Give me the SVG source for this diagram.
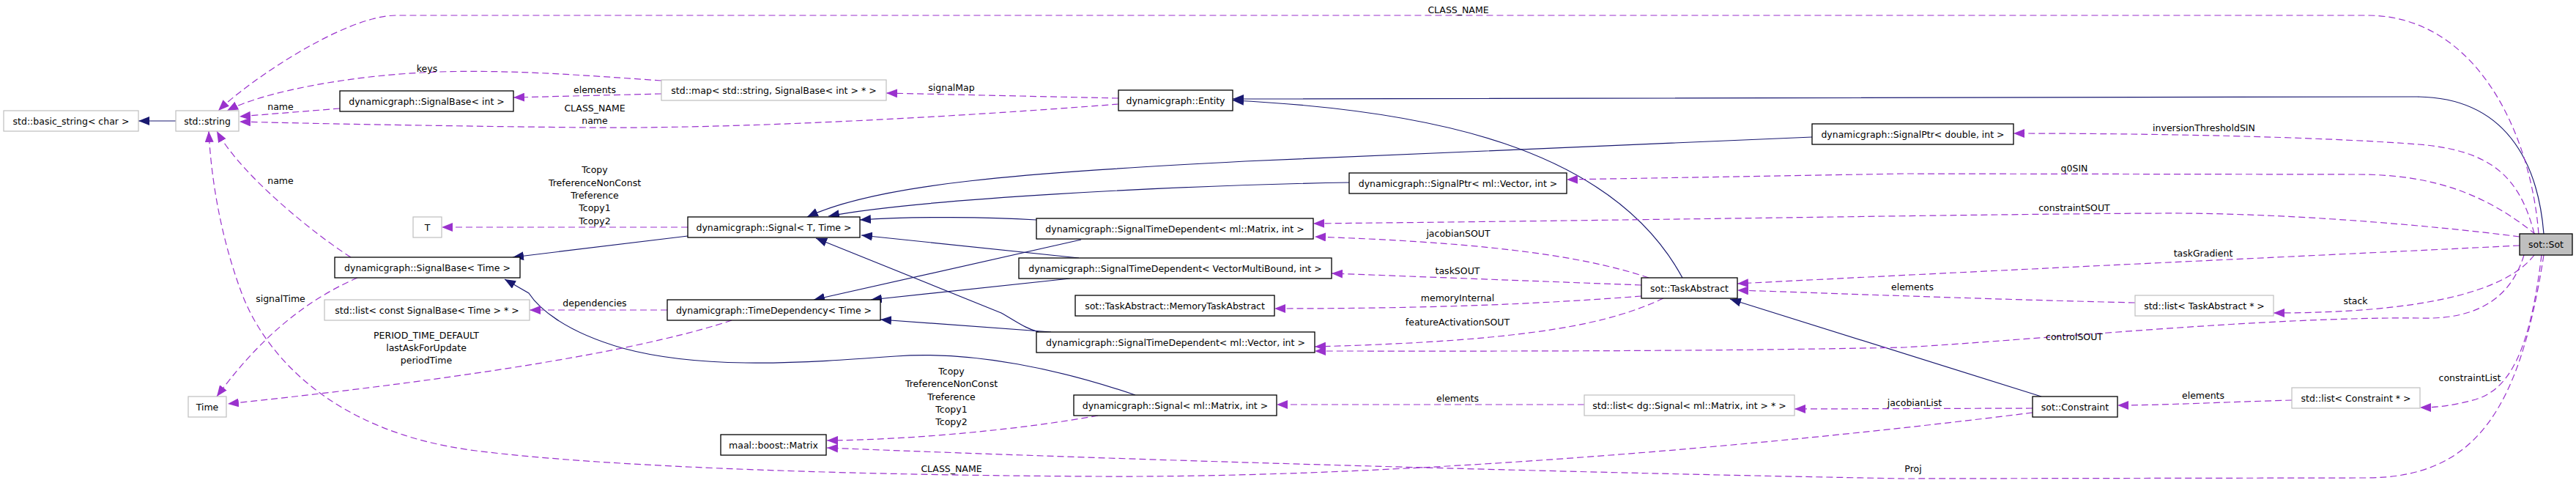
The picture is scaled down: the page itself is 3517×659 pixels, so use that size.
<svg xmlns="http://www.w3.org/2000/svg" width="3517" height="659" viewBox="0 0 3517 659">
<style>
text{font-family:"DejaVu Sans","Liberation Sans",sans-serif;font-size:12.5px;fill:#000;text-anchor:middle}
.n rect{fill:#fff;stroke:#000;stroke-width:1.3}
.g rect{fill:#fff;stroke:#bfbfbf;stroke-width:1.2}
.s{fill:none;stroke:#191970;stroke-width:1.2;marker-end:url(#ab)}
.d{fill:none;stroke:#9a32cd;stroke-width:1.2;stroke-dasharray:9,5;marker-end:url(#ap)}
</style>
<defs>
<marker id="ab" viewBox="0 0 15 12" refX="15" refY="6" markerWidth="15" markerHeight="12" orient="auto" markerUnits="userSpaceOnUse"><path d="M0,0 L15,6 L0,12 z" fill="#191970"/></marker>
<marker id="ap" viewBox="0 0 15 12" refX="15" refY="6" markerWidth="15" markerHeight="12" orient="auto" markerUnits="userSpaceOnUse"><path d="M0,0 L15,6 L0,12 z" fill="#9a32cd"/></marker>
</defs>
<rect width="3517" height="659" fill="#fff"/>
<g id="edges">
<path class="s" d="M240,165 L189,165"/>
<path class="s" d="M3473,319 C3465,220 3420,133 3300,132 L1683,135"/>
<path class="s" d="M2297,379 C2200,200 1950,150 1683,137"/>
<path class="s" d="M2474,187 L1700,220 C1400,236 1200,250 1102,296"/>
<path class="s" d="M1842,249 C1600,253 1250,272 1131,295"/>
<path class="s" d="M1415,300 C1350,296 1250,295 1174,300"/>
<path class="s" d="M1473,352 L1176,321"/>
<path class="s" d="M1476,327 L1111,409"/>
<path class="s" d="M1461,380 L1189,409"/>
<path class="s" d="M1435,453 L1202,436"/>
<path class="s" d="M1418,453 C1400,448 1390,440 1367,427 L1114,325"/>
<path class="s" d="M939,322 L700,351"/>
<path class="s" d="M1550,539 C1450,505 1330,478 1223,486 C1100,495 960,505 850,475 C770,452 735,420 722,400 L689,381"/>
<path class="s" d="M2787,541 L2362,408"/>
<path class="d" d="M464,148 L327,159"/>
<path class="d" d="M903,110 C800,103 700,95 600,98 C480,102 360,125 310,151"/>
<path class="d" d="M903,128 L701,133"/>
<path class="d" d="M1527,142 C1300,160 1000,176 800,174 C600,172 400,168 327,166"/>
<path class="d" d="M1527,134 L1210,127"/>
<path class="d" d="M3466,319 C3455,180 3380,21 3232,21 L540,21 C470,22 340,110 298,151"/>
<path class="d" d="M479,351 C430,320 330,240 296,179"/>
<path class="d" d="M2775,563 C2400,610 1900,652 1500,650 C1100,648 800,634 650,615 C450,590 360,480 330,400 C300,320 288,240 285,179"/>
<path class="d" d="M488,379 C440,400 370,440 296,541"/>
<path class="d" d="M999,437 C900,470 700,510 311,551"/>
<path class="d" d="M911,423 L723,423"/>
<path class="d" d="M939,310 L603,310"/>
<path class="d" d="M1499,567 C1400,585 1250,600 1129,601"/>
<path class="d" d="M3473,348 C3440,560 3380,652 3230,652 L2600,653 C2200,646 1600,630 1129,611"/>
<path class="d" d="M3460,319 C3440,240 3400,205 3302,197 C3200,189 3000,182 2749,182"/>
<path class="d" d="M3462,320 C3400,270 3330,238 3220,238 L2600,237 L2139,245"/>
<path class="d" d="M3440,323 C3300,305 3100,290 2951,291 C2700,292 2300,300 1793,305"/>
<path class="d" d="M2251,379 C2150,345 2000,330 1795,323"/>
<path class="d" d="M2241,389 L1818,373"/>
<path class="d" d="M2241,404 C2100,415 1950,421 1740,421"/>
<path class="d" d="M2271,407 C2200,440 2100,465 1795,473"/>
<path class="d" d="M3446,348 C3430,400 3390,437 3303,434 C3100,432 2800,462 2600,474 C2300,480 2000,479 1795,479"/>
<path class="d" d="M3440,335 C3200,347 2800,365 2372,387"/>
<path class="d" d="M2915,413 C2700,408 2500,400 2372,396"/>
<path class="d" d="M3460,348 C3420,400 3300,427 3104,427"/>
<path class="d" d="M3470,348 C3455,470 3430,530 3380,545 C3350,553 3330,556 3304,556"/>
<path class="d" d="M3129,546 C3050,548 2950,553 2891,553"/>
<path class="d" d="M2775,557 L2450,558"/>
<path class="d" d="M2163,552 L1743,552"/>
</g>
<g id="labels">
<text x="1991" y="18">CLASS_NAME</text>
<text x="583" y="98">keys</text>
<text x="812" y="127">elements</text>
<text x="812" y="152">CLASS_NAME</text>
<text x="812" y="169">name</text>
<text x="383" y="150">name</text>
<text x="1299" y="124">signalMap</text>
<text x="383" y="251">name</text>
<text x="812" y="236">Tcopy</text>
<text x="812" y="254">TreferenceNonConst</text>
<text x="812" y="271">Treference</text>
<text x="812" y="288">Tcopy1</text>
<text x="812" y="306">Tcopy2</text>
<text x="383" y="412">signalTime</text>
<text x="812" y="418">dependencies</text>
<text x="582" y="462">PERIOD_TIME_DEFAULT</text>
<text x="582" y="479">lastAskForUpdate</text>
<text x="582" y="496">periodTime</text>
<text x="1299" y="511">Tcopy</text>
<text x="1299" y="528">TreferenceNonConst</text>
<text x="1299" y="546">Treference</text>
<text x="1299" y="563">Tcopy1</text>
<text x="1299" y="580">Tcopy2</text>
<text x="1299" y="644">CLASS_NAME</text>
<text x="3009" y="179">inversionThresholdSIN</text>
<text x="2832" y="234">q0SIN</text>
<text x="2832" y="288">constraintSOUT</text>
<text x="1991" y="323">jacobianSOUT</text>
<text x="3008" y="350">taskGradient</text>
<text x="1990" y="374">taskSOUT</text>
<text x="2611" y="396">elements</text>
<text x="1990" y="411">memoryInternal</text>
<text x="3216" y="415">stack</text>
<text x="1990" y="444">featureActivationSOUT</text>
<text x="2832" y="464">controlSOUT</text>
<text x="3372" y="520">constraintList</text>
<text x="3008" y="544">elements</text>
<text x="1990" y="548">elements</text>
<text x="2614" y="554">jacobianList</text>
<text x="2612" y="644">Proj</text>
</g>
<g id="n-basic_string" class="g"><rect x="5" y="151" width="184" height="28"/><text x="97" y="169.5">std::basic_string&lt; char &gt;</text></g>
<g id="n-string" class="g"><rect x="240" y="151" width="86" height="28"/><text x="283" y="169.5">std::string</text></g>
<g id="n-signalbase-int" class="n"><rect x="464" y="124" width="237" height="28"/><text x="582.5" y="142.5">dynamicgraph::SignalBase&lt; int &gt;</text></g>
<g id="n-map" class="g"><rect x="903" y="109" width="307" height="28"/><text x="1056.5" y="127.5">std::map&lt; std::string, SignalBase&lt; int &gt; * &gt;</text></g>
<g id="n-entity" class="n"><rect x="1527" y="123" width="156" height="28"/><text x="1605" y="141.5">dynamicgraph::Entity</text></g>
<g id="n-T" class="g"><rect x="564" y="296" width="39" height="28"/><text x="583.5" y="314.5">T</text></g>
<g id="n-signal-T" class="n"><rect x="939" y="296" width="235" height="28"/><text x="1056.5" y="314.5">dynamicgraph::Signal&lt; T, Time &gt;</text></g>
<g id="n-std-matrix" class="n"><rect x="1415" y="298" width="378" height="28"/><text x="1604" y="316.5">dynamicgraph::SignalTimeDependent&lt; ml::Matrix, int &gt;</text></g>
<g id="n-signalptr-double" class="n"><rect x="2474" y="169" width="275" height="28"/><text x="2611.5" y="187.5">dynamicgraph::SignalPtr&lt; double, int &gt;</text></g>
<g id="n-signalptr-vector" class="n"><rect x="1842" y="236" width="297" height="28"/><text x="1990.5" y="254.5">dynamicgraph::SignalPtr&lt; ml::Vector, int &gt;</text></g>
<g id="n-sot" class="n"><rect x="3440" y="319" width="72" height="29" style="fill:#bfbfbf"/><text x="3476" y="338">sot::Sot</text></g>
<g id="n-signalbase-time" class="n"><rect x="457" y="351" width="253" height="28"/><text x="583.5" y="369.5">dynamicgraph::SignalBase&lt; Time &gt;</text></g>
<g id="n-list-signalbase" class="g"><rect x="443" y="409" width="280" height="28"/><text x="583" y="427.5">std::list&lt; const SignalBase&lt; Time &gt; * &gt;</text></g>
<g id="n-time" class="g"><rect x="257" y="541" width="52" height="28"/><text x="283" y="559.5">Time</text></g>
<g id="n-timedependency" class="n"><rect x="911" y="409" width="291" height="28"/><text x="1056.5" y="427.5">dynamicgraph::TimeDependency&lt; Time &gt;</text></g>
<g id="n-std-vmb" class="n"><rect x="1391" y="352" width="427" height="28"/><text x="1604.5" y="370.5">dynamicgraph::SignalTimeDependent&lt; VectorMultiBound, int &gt;</text></g>
<g id="n-memory" class="n"><rect x="1468" y="403" width="272" height="28"/><text x="1604" y="421.5">sot::TaskAbstract::MemoryTaskAbstract</text></g>
<g id="n-std-vector" class="n"><rect x="1415" y="453" width="380" height="28"/><text x="1605" y="471.5">dynamicgraph::SignalTimeDependent&lt; ml::Vector, int &gt;</text></g>
<g id="n-signal-matrix" class="n"><rect x="1466" y="539" width="277" height="28"/><text x="1604.5" y="557.5">dynamicgraph::Signal&lt; ml::Matrix, int &gt;</text></g>
<g id="n-matrix" class="n"><rect x="984" y="593" width="144" height="28"/><text x="1056" y="611.5">maal::boost::Matrix</text></g>
<g id="n-taskabstract" class="n"><rect x="2241" y="379" width="131" height="28"/><text x="2306.5" y="397.5">sot::TaskAbstract</text></g>
<g id="n-list-task" class="g"><rect x="2915" y="403" width="189" height="28"/><text x="3009.5" y="421.5">std::list&lt; TaskAbstract * &gt;</text></g>
<g id="n-list-dgsignal" class="g"><rect x="2163" y="539" width="287" height="28"/><text x="2306.5" y="557.5">std::list&lt; dg::Signal&lt; ml::Matrix, int &gt; * &gt;</text></g>
<g id="n-constraint" class="n"><rect x="2775" y="541" width="116" height="28"/><text x="2833" y="559.5">sot::Constraint</text></g>
<g id="n-list-constraint" class="g"><rect x="3129" y="529" width="175" height="28"/><text x="3216.5" y="547.5">std::list&lt; Constraint * &gt;</text></g>
</svg>
